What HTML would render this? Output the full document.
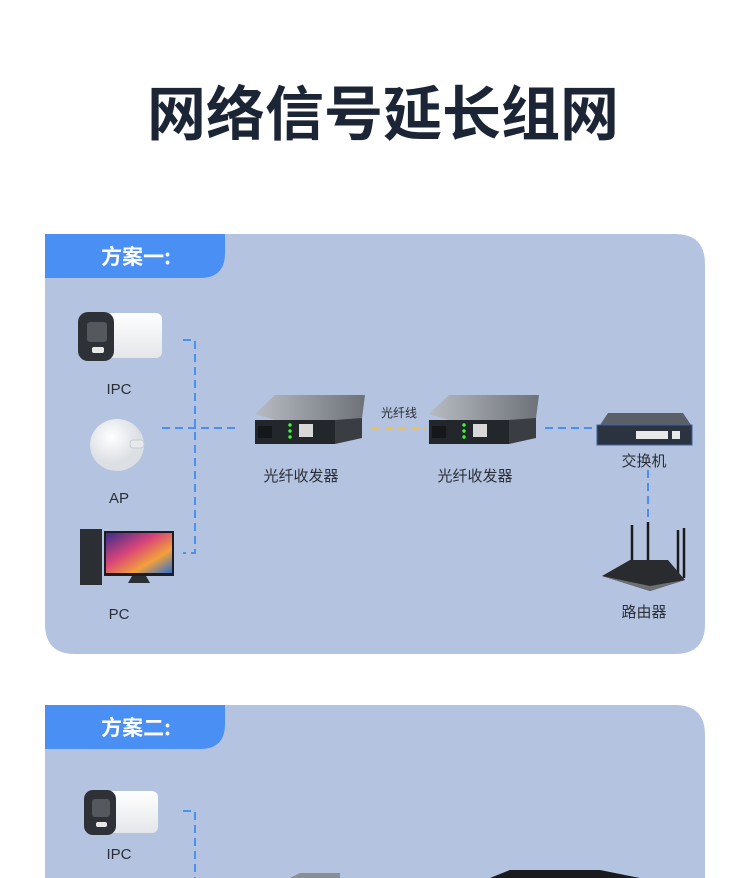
<!DOCTYPE html>
<html><head><meta charset="utf-8"><style>
body{margin:0;background:#fff;width:750px;height:878px;overflow:hidden;font-family:"Liberation Sans","Noto Sans CJK SC",sans-serif}
</style></head><body>
<svg width="750" height="878" xmlns="http://www.w3.org/2000/svg" style="display:block">
<defs>
<linearGradient id="cam" x1="0" x2="0" y1="0" y2="1"><stop offset="0" stop-color="#ffffff"/><stop offset="1" stop-color="#e4e6ea"/></linearGradient>
<radialGradient id="ap" cx="0.4" cy="0.35"><stop offset="0" stop-color="#ffffff"/><stop offset="1" stop-color="#dcdfe4"/></radialGradient>
<linearGradient id="mc" x1="0" x2="1"><stop offset="0" stop-color="#b8bcc2"/><stop offset="1" stop-color="#6d7278"/></linearGradient>
<linearGradient id="scr" x1="0" x2="1" y1="0" y2="1"><stop offset="0" stop-color="#3a2d8a"/><stop offset="0.4" stop-color="#d8447a"/><stop offset="0.7" stop-color="#f2a03c"/><stop offset="1" stop-color="#2d6fd0"/></linearGradient>
</defs>
<text x="383" y="135" text-anchor="middle" font-size="59" font-weight="bold" fill="#1b2535" font-family="Noto Sans CJK SC,sans-serif">网络信号延长组网</text>

<!-- panel 1 -->
<path d="M45 234 H675 Q705 234 705 264 V624 Q705 654 675 654 H75 Q45 654 45 624 Z" fill="#b4c3df"/>
<path d="M45 234 H225 V253 Q225 278 200 278 H45 Z" fill="#4a90f4"/>
<text x="136" y="264" text-anchor="middle" font-size="21" font-weight="bold" fill="#fff" font-family="Noto Sans CJK SC,sans-serif">方案一:</text>

<g stroke="#4a8ff2" stroke-width="2" stroke-dasharray="8,5" fill="none">
<path d="M183 340 H195 V553 H183"/>
<path d="M162 428 H240"/>
<path d="M545 428 H592"/>
<path d="M648 470 V518"/>
</g>
<path d="M372 428 H425" stroke="#f2c04a" stroke-width="2" stroke-dasharray="8,5"/>

<!-- camera -->
<g>
<rect x="82" y="313" width="80" height="45" rx="6" fill="url(#cam)"/>
<rect x="78" y="312" width="36" height="49" rx="10" fill="#2e3136"/>
<rect x="87" y="322" width="20" height="20" rx="3" fill="#55595e"/>
<rect x="92" y="347" width="12" height="6" rx="2" fill="#e8e8e8"/>
</g>
<text x="119" y="394" text-anchor="middle" font-size="15" fill="#2a2f38">IPC</text>
<!-- AP -->
<ellipse cx="117" cy="445" rx="27" ry="26" fill="url(#ap)"/>
<rect x="130" y="440" width="14" height="8" rx="3" fill="#e8e9ec" stroke="#c8cbd0"/>
<text x="119" y="503" text-anchor="middle" font-size="15" fill="#2a2f38">AP</text>
<!-- PC -->
<rect x="80" y="529" width="22" height="56" fill="#2b2e33"/>
<rect x="104" y="531" width="70" height="45" fill="#1c1d20"/>
<rect x="106" y="533" width="66" height="40" fill="url(#scr)"/>
<path d="M132 576 L128 583 H150 L146 576 Z" fill="#2b2e33"/>
<text x="119" y="619" text-anchor="middle" font-size="15" fill="#2a2f38">PC</text>

<!-- media converter 1 -->
<g>
<path d="M255 414 L275 395 H365 L362 418 L335 438 Z" fill="url(#mc)"/>
<path d="M255 414 H335 V438 H255 Z" fill="#23262b" transform="translate(0,6)"/>
<path d="M335 420 L362 418 V438 L335 444 Z" fill="#3a3d42"/>
<rect x="258" y="426" width="14" height="12" fill="#161719"/>
<rect x="299" y="424" width="14" height="13" fill="#d8d8d8"/>
<circle cx="290" cy="425" r="1.7" fill="#3f3"/><circle cx="290" cy="431" r="1.7" fill="#3f3"/><circle cx="290" cy="437" r="1.7" fill="#3f3"/>
</g>
<text x="301" y="481" text-anchor="middle" font-size="15" fill="#2a2f38" font-family="Noto Sans CJK SC,sans-serif">光纤收发器</text>
<text x="399" y="417" text-anchor="middle" font-size="12" fill="#2a2f38" font-family="Noto Sans CJK SC,sans-serif">光纤线</text>
<!-- media converter 2 -->
<g transform="translate(174,0)">
<path d="M255 414 L275 395 H365 L362 418 L335 438 Z" fill="url(#mc)"/>
<path d="M255 414 H335 V438 H255 Z" fill="#23262b" transform="translate(0,6)"/>
<path d="M335 420 L362 418 V438 L335 444 Z" fill="#3a3d42"/>
<rect x="258" y="426" width="14" height="12" fill="#161719"/>
<rect x="299" y="424" width="14" height="13" fill="#d8d8d8"/>
<circle cx="290" cy="425" r="1.7" fill="#3f3"/><circle cx="290" cy="431" r="1.7" fill="#3f3"/><circle cx="290" cy="437" r="1.7" fill="#3f3"/>
</g>
<text x="475" y="481" text-anchor="middle" font-size="15" fill="#2a2f38" font-family="Noto Sans CJK SC,sans-serif">光纤收发器</text>
<!-- switch -->
<path d="M600 425 L608 413 H683 L691 425 Z" fill="#5b6068"/>
<rect x="597" y="425" width="95" height="20" fill="#2c3340" stroke="#3a5fa0"/>
<rect x="636" y="431" width="32" height="8" fill="#e8e8e8"/>
<rect x="672" y="431" width="8" height="8" fill="#e8e8e8"/>
<text x="644" y="466" text-anchor="middle" font-size="15" fill="#2a2f38" font-family="Noto Sans CJK SC,sans-serif">交换机</text>
<!-- router -->
<g stroke="#1a1b1e" stroke-width="2.5">
<line x1="632" y1="525" x2="632" y2="565"/><line x1="648" y1="522" x2="648" y2="563"/>
<line x1="678" y1="530" x2="678" y2="575"/><line x1="684" y1="528" x2="684" y2="578"/>
</g>
<path d="M602 576 L630 560 H668 L685 580 L650 591 Z" fill="#2a2b2f"/>
<path d="M602 576 L650 591 L685 580 L650 586 Z" fill="#6b6e73"/>
<text x="644" y="617" text-anchor="middle" font-size="15" fill="#2a2f38" font-family="Noto Sans CJK SC,sans-serif">路由器</text>

<!-- panel 2 -->
<path d="M45 705 H675 Q705 705 705 735 V900 H45 Z" fill="#b4c3df"/>
<path d="M45 705 H225 V724 Q225 749 200 749 H45 Z" fill="#4a90f4"/>
<text x="136" y="735" text-anchor="middle" font-size="21" font-weight="bold" fill="#fff" font-family="Noto Sans CJK SC,sans-serif">方案二:</text>
<path d="M183 811 H195 V878" stroke="#4a8ff2" stroke-width="2" stroke-dasharray="8,5" fill="none"/>
<g>
<rect x="88" y="791" width="70" height="42" rx="6" fill="url(#cam)"/>
<rect x="84" y="790" width="32" height="45" rx="9" fill="#2e3136"/>
<rect x="92" y="799" width="18" height="18" rx="3" fill="#55595e"/>
<rect x="96" y="822" width="11" height="5" rx="2" fill="#e8e8e8"/>
</g>
<text x="119" y="859" text-anchor="middle" font-size="15" fill="#2a2f38">IPC</text>
<path d="M290 878 L300 873 H340 V878 Z" fill="#8a8f96"/>
<path d="M490 878 L510 870 H600 L640 878 Z" fill="#1a1b1e"/>
</svg>
</body></html>
